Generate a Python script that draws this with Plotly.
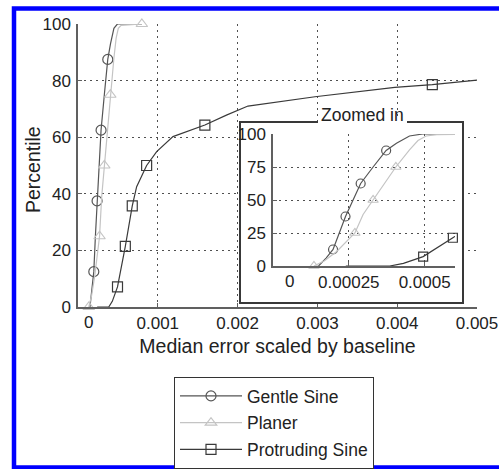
import plotly.graph_objects as go

# ---------------- data ----------------
series_names = ["Gentle Sine", "Planer", "Protruding Sine"]

gentle_x = [0.000150, 0.000175, 0.000198, 0.000218, 0.000239, 0.000264, 0.000289,
            0.000330, 0.000373, 0.000407, 0.000450, 0.000494, 0.000800]
gentle_y = [0, 6, 12.5, 25, 37.5, 50, 62.5, 75, 87.5, 93, 98.5, 100, 100]
gentle_marks = [2, 4, 6, 8]

planer_x = [0.000135, 0.000170, 0.000210, 0.000270, 0.000297, 0.000330, 0.000363,
            0.000405, 0.000450, 0.000478, 0.000505, 0.000540, 0.000800]
planer_y = [0, 4, 11, 25, 39, 50, 62, 75, 88, 95, 98.5, 99.5, 100]
planer_marks = [0, 3, 5, 7, 12]

prot_x = [0.00024, 0.000385, 0.00043, 0.000495, 0.000593, 0.00068, 0.000735, 0.00086,
          0.000986, 0.00119, 0.00159, 0.00186, 0.00213, 0.00297, 0.00397, 0.00444, 0.0050]
prot_y = [0, 0, 2, 7.1, 21.4, 35.7, 42.5, 50, 54.9, 60.2, 64.3, 67.8, 71, 74.3, 77.6,
          78.6, 80.2]
prot_marks = [3, 4, 5, 7, 10, 15]

main_xticks = [0.001, 0.002, 0.003, 0.004, 0.005]
main_xtext = ["0.001", "0.002", "0.003", "0.004", "0.005"]
main_yticks = [0, 20, 40, 60, 80, 100]
inset_xticks = [0.00025, 0.0005]
inset_xtext = ["0.00025", "0.0005"]
inset_yticks = [0, 25, 50, 75, 100]
inset_xmax = 0.0006

# ---------------- style ----------------
FONT = "Liberation Sans, Arial, sans-serif"
colors = ["#555555", "#c4c4c4", "#3a3a3a"]
symbols = ["circle-open", "triangle-up-open", "square-open"]
AXC = "#606060"
GRIDC = "#505050"
W, H = 499, 469
L, R, T, B = 78, 477, 24, 307


def px_x(p):
    return (p - L) / (R - L)


def px_y(p):
    return (B - p) / (B - T)


series = [
    (gentle_x, gentle_y, gentle_marks),
    (planer_x, planer_y, planer_marks),
    (prot_x, prot_y, prot_marks),
]

fig = go.Figure()

# main plot + inset
for i, (xs, ys, mk) in enumerate(series):
    for ax, ay, xmax, msz in [("x", "y", None, 10), ("x3", "y3", inset_xmax, 9)]:
        fig.add_trace(go.Scatter(
            x=xs, y=ys, mode="lines", xaxis=ax, yaxis=ay,
            line=dict(color=colors[i], width=1.2), showlegend=False, hoverinfo="skip"))
        mx = [xs[j] for j in mk if xmax is None or xs[j] <= xmax]
        my = [ys[j] for j in mk if xmax is None or xs[j] <= xmax]
        fig.add_trace(go.Scatter(
            x=mx, y=my, mode="markers", xaxis=ax, yaxis=ay, cliponaxis=False,
            marker=dict(symbol=symbols[i], size=msz, color=colors[i],
                        line=dict(color=colors[i], width=1.2)),
            showlegend=False, hoverinfo="skip"))

# empty trace for the inset frame subplot
fig.add_trace(go.Scatter(x=[None], y=[None], xaxis="x2", yaxis="y2",
                         showlegend=False, hoverinfo="skip"))

# legend entries
for i, name in enumerate(series_names):
    fig.add_trace(go.Scatter(
        x=[None], y=[None], mode="lines+markers", name=name, legendgroup=name,
        line=dict(color=colors[i], width=1.2),
        marker=dict(symbol=symbols[i], size=10, color=colors[i],
                    line=dict(color=colors[i], width=1.2))))

tickfont = dict(family=FONT, size=17, color="#222222")
common = dict(showline=True, linecolor=AXC, linewidth=1.5, ticks="inside", ticklen=4,
              tickcolor=AXC, showgrid=True, gridcolor=GRIDC, griddash="1.5px,4.5px",
              gridwidth=1, zeroline=False, tickfont=tickfont, automargin=False)

fig.update_layout(
    width=W, height=H, autosize=False,
    margin=dict(l=L, r=W - R, t=T, b=H - B, pad=0, autoexpand=False),
    paper_bgcolor="white", plot_bgcolor="white",
    font=dict(family=FONT, color="#222222"),
    xaxis=dict(domain=[0, 1], range=[0, 0.005], tickvals=main_xticks, ticktext=main_xtext,
               title=dict(text="Median error scaled by baseline",
                          font=dict(family=FONT, size=19.5, color="#222222"), standoff=7),
               **common),
    yaxis=dict(domain=[0, 1], range=[0, 100], tickvals=main_yticks,
               ticklabelstandoff=2, **common),
    xaxis2=dict(domain=[px_x(241), px_x(462)], range=[0, 1], anchor="y2", showline=True,
                mirror=True, linecolor="#383838", linewidth=1.5, showgrid=False,
                zeroline=False, showticklabels=False, ticks=""),
    yaxis2=dict(domain=[px_y(302), px_y(123)], range=[0, 1], anchor="x2", showline=True,
                mirror=True, linecolor="#383838", linewidth=1.5, showgrid=False,
                zeroline=False, showticklabels=False, ticks=""),
    xaxis3=dict(domain=[px_x(273), px_x(455)], range=[0, inset_xmax], anchor="y3",
                tickvals=inset_xticks, ticktext=inset_xtext, **common),
    yaxis3=dict(domain=[px_y(266), px_y(134)], range=[0, 100], anchor="x3",
                tickvals=inset_yticks, ticklabelstandoff=2, **common),
    legend=dict(x=px_x(174), y=px_y(377), xanchor="left", yanchor="top",
                bgcolor="white", bordercolor="#333333", borderwidth=1,
                font=dict(family=FONT, size=17.5, color="#222222"),
                itemwidth=62, tracegroupgap=1),
    shapes=[
        dict(type="rect", xref="paper", yref="paper", x0=px_x(318), x1=px_x(407),
             y0=px_y(127), y1=px_y(119), fillcolor="white", line=dict(width=0)),
        dict(type="rect", xref="paper", yref="paper", x0=px_x(14), x1=px_x(502),
             y0=px_y(467.5), y1=px_y(8.5), line=dict(color="#0000ff", width=4.5)),
    ],
    annotations=[
        dict(text="Percentile", xref="paper", yref="paper", x=px_x(33), y=px_y(170),
             xanchor="center", yanchor="middle", textangle=-90, showarrow=False,
             font=dict(family=FONT, size=19.5, color="#222222")),
        dict(text="Zoomed in", xref="paper", yref="paper", x=px_x(362), y=px_y(115),
             xanchor="center", yanchor="middle", showarrow=False,
             font=dict(family=FONT, size=17.5, color="#222222")),
        dict(text="0", xref="x", yref="paper", x=0.000134, y=px_y(322),
             xanchor="center", yanchor="middle", showarrow=False, font=tickfont),
        dict(text="0", xref="x3", yref="paper", x=0.000056, y=px_y(281),
             xanchor="center", yanchor="middle", showarrow=False, font=tickfont),
    ],
)

fig.write_html("out.html")
